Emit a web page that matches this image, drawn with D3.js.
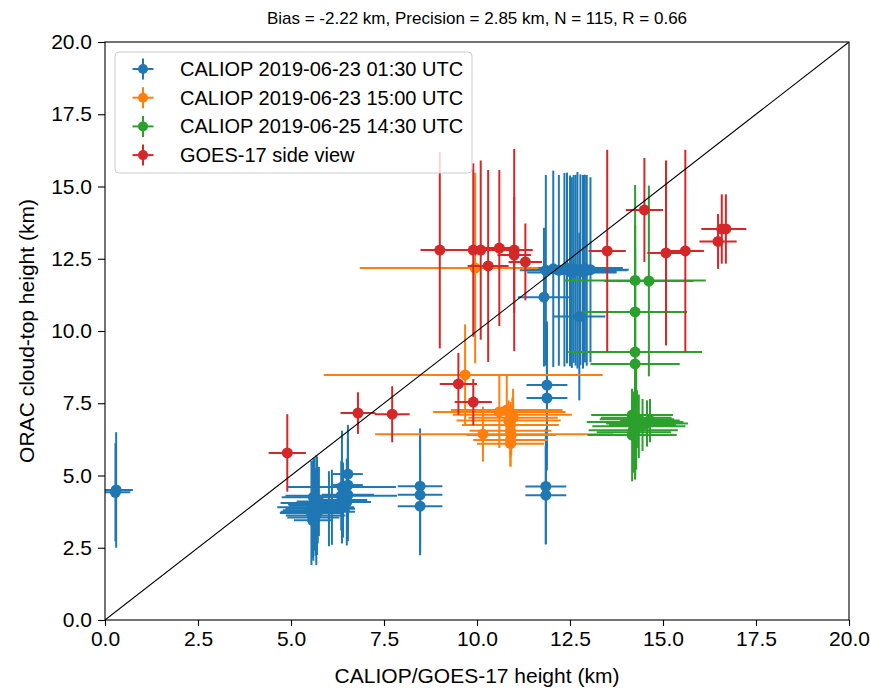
<!DOCTYPE html>
<html>
<head>
<meta charset="utf-8">
<script src="https://cdn.jsdelivr.net/npm/d3@7"></script>
<style>
  body { margin: 0; background: #fff; }
  text { font-family: "Liberation Sans", Arial, Helvetica, sans-serif; fill: #000; }
</style>
</head>
<body>
<svg id="chart"></svg>
<script>
// each point: [x, y, xerr, yerr]  (xerr may be [lo, hi])
const caliop0623a = [
  [0.30, 4.50, 0.45, 2.0], [0.28, 4.42, 0.40, 1.7],
  [5.60, 4.25, 0.85, 1.3], [5.62, 4.05, 0.90, 1.5], [5.58, 3.90, 0.95, 1.6],
  [5.65, 3.85, 0.80, 1.4], [5.55, 3.70, 0.85, 1.8], [5.60, 3.55, 0.70, 1.5],
  [5.70, 3.95, 0.75, 1.7], [5.75, 4.10, 0.60, 1.2], [5.58, 3.45, 0.50, 1.3],
  [5.68, 3.80, 0.90, 1.9], [5.62, 4.00, 0.70, 1.6], [5.66, 3.62, 0.80, 1.4],
  [5.72, 3.75, 1.00, 1.1], [6.02, 3.85, 0.70, 1.3], [6.10, 3.90, 0.60, 1.3],
  [6.37, 4.60, 1.45, 1.95], [6.40, 4.15, 0.65, 1.3], [6.35, 4.30, 1.50, 1.2],
  [6.53, 5.05, 0.40, 1.7], [6.53, 4.67, 0.40, 1.6], [6.53, 4.33, 0.70, 1.6],
  [6.50, 4.08, 0.65, 1.5],
  [8.47, 4.63, 0.60, 2.0], [8.47, 4.33, 0.60, 2.0], [8.47, 3.94, 0.60, 1.7],
  [11.88, 8.13, 0.55, 2.2], [11.88, 7.68, 0.55, 2.5],
  [11.85, 4.62, 0.55, 2.0], [11.85, 4.32, 0.55, 1.7],
  [11.80, 11.17, 0.70, 2.4], [12.75, 10.50, 0.70, 2.9],
  [11.85, 12.10, 0.70, 3.3], [12.05, 12.15, 0.60, 3.4], [12.20, 12.10, 0.90, 3.3],
  [12.35, 12.12, 0.50, 3.35], [12.50, 12.08, 0.80, 3.3], [12.60, 12.15, 1.00, 3.25],
  [12.70, 12.10, 0.70, 3.4], [12.78, 12.12, 1.30, 3.3], [12.85, 12.05, 0.90, 3.35],
  [12.95, 12.10, 1.10, 3.3], [13.05, 12.12, 0.80, 3.2], [12.42, 12.18, 1.50, 3.3],
  [12.65, 12.10, 0.60, 3.3], [12.55, 12.02, 1.20, 3.3], [12.90, 12.16, 0.75, 3.25]
];

const caliop0623b = [
  [9.95, 12.18, [3.1, 1.7], 3.3],
  [9.68, 8.48, [3.8, 3.7], 1.75],
  [10.16, 6.43, [2.9, 3.5], 0.95],
  [10.60, 7.20, 1.78, 1.25], [10.80, 7.27, 1.50, 1.2], [10.97, 7.00, 1.20, 1.0],
  [10.90, 6.75, 1.30, 0.8], [10.90, 6.55, 1.10, 0.9], [10.90, 6.23, 1.00, 0.9],
  [10.90, 6.10, 0.90, 0.8], [10.85, 6.90, 1.40, 0.7], [10.95, 7.10, 1.60, 0.6],
  [10.92, 6.40, 1.20, 0.7]
];

const caliop0625 = [
  [14.25, 11.75, 1.90, 3.3], [14.62, 11.73, 1.20, 3.3],
  [14.25, 10.66, 1.40, 3.0], [14.25, 9.27, 1.80, 4.4], [14.25, 8.86, 1.20, 4.0],
  [14.17, 7.09, 1.10, 0.9], [14.25, 6.85, 1.30, 1.0], [14.57, 6.80, 1.10, 0.8],
  [14.20, 6.57, 1.20, 1.2], [14.17, 6.40, 1.20, 1.6], [14.30, 6.95, 1.00, 1.0],
  [14.35, 6.70, 1.25, 1.1], [14.45, 6.75, 0.90, 0.9], [14.22, 6.50, 1.00, 1.4],
  [14.65, 6.90, 0.80, 0.75], [14.28, 7.00, 0.95, 1.8]
];

const goesSide = [
  [4.90, 5.78, 0.50, 1.34], [6.80, 7.16, 0.47, 0.72], [7.72, 7.12, 0.47, 0.97],
  [9.50, 8.17, 0.50, 1.07], [9.90, 7.54, 0.50, 0.80],
  [9.00, 12.80, 0.52, 3.40], [9.90, 12.80, 0.55, 3.00], [10.10, 12.80, 0.50, 3.10],
  [10.60, 12.87, 0.50, 2.70], [11.00, 12.80, 0.50, 3.50], [11.00, 12.63, 0.45, 2.00],
  [10.30, 12.25, 0.55, 3.32], [11.30, 12.39, 0.45, 1.33],
  [13.50, 12.77, 0.50, 3.50], [14.50, 14.19, 0.50, 1.80], [15.08, 12.70, 0.50, 3.20],
  [15.60, 12.77, 0.50, 3.50], [16.48, 13.10, 0.50, 0.95], [16.58, 13.53, 0.55, 1.20],
  [16.69, 13.53, 0.55, 1.20]
];

const seriesNames = [
  "CALIOP 2019-06-23 01:30 UTC",
  "CALIOP 2019-06-23 15:00 UTC",
  "CALIOP 2019-06-25 14:30 UTC",
  "GOES-17 side view"
];
const seriesColors = ["#1f77b4", "#ff7f0e", "#2ca02c", "#d62728"];
const allSeries = [caliop0623a, caliop0623b, caliop0625, goesSide];
const ticks = [0, 2.5, 5, 7.5, 10, 12.5, 15, 17.5, 20];
const titleText = "Bias = -2.22 km, Precision = 2.85 km, N = 115, R = 0.66";

const width = 870, height = 688;
const margin = { left: 105, right: 21, top: 42, bottom: 68 };
const innerW = width - margin.left - margin.right;
const innerH = height - margin.top - margin.bottom;

const svg = d3.select("#chart").attr("width", width).attr("height", height);

const x = d3.scaleLinear().domain([0, 20]).range([margin.left, margin.left + innerW]);
const y = d3.scaleLinear().domain([0, 20]).range([margin.top + innerH, margin.top]);

svg.append("defs").append("clipPath").attr("id", "plotClip")
  .append("rect").attr("x", margin.left).attr("y", margin.top)
  .attr("width", innerW).attr("height", innerH);

const plot = svg.append("g").attr("clip-path", "url(#plotClip)");

const lo = e => Array.isArray(e) ? e[0] : e;
const hi = e => Array.isArray(e) ? e[1] : e;

allSeries.forEach((data, i) => {
  const g = plot.append("g").attr("stroke", seriesColors[i]).attr("stroke-width", 2);
  g.selectAll(".xerr").data(data).enter().append("line")
    .attr("x1", d => x(d[0] - lo(d[2]))).attr("x2", d => x(d[0] + hi(d[2])))
    .attr("y1", d => y(d[1])).attr("y2", d => y(d[1]));
  g.selectAll(".yerr").data(data).enter().append("line")
    .attr("x1", d => x(d[0])).attr("x2", d => x(d[0]))
    .attr("y1", d => y(d[1] - lo(d[3]))).attr("y2", d => y(d[1] + hi(d[3])));
  plot.append("g").selectAll("circle").data(data).enter().append("circle")
    .attr("cx", d => x(d[0])).attr("cy", d => y(d[1]))
    .attr("r", 5.5).attr("fill", seriesColors[i]);
});

// 1:1 line
plot.append("line")
  .attr("x1", x(0)).attr("y1", y(0)).attr("x2", x(20)).attr("y2", y(20))
  .attr("stroke", "#000").attr("stroke-width", 1.1);

// axes
const fmt = d3.format(".1f");
const xAxis = svg.append("g").attr("transform", `translate(0,${margin.top + innerH})`)
  .call(d3.axisBottom(x).tickValues(ticks).tickFormat(fmt).tickSizeOuter(0).tickSize(6).tickPadding(5));
const yAxis = svg.append("g").attr("transform", `translate(${margin.left},0)`)
  .call(d3.axisLeft(y).tickValues(ticks).tickFormat(fmt).tickSizeOuter(0).tickSize(7).tickPadding(6));
[xAxis, yAxis].forEach(a => {
  a.select(".domain").remove();
  a.selectAll("line").attr("stroke", "#000").attr("stroke-width", 1.1);
  a.selectAll("text").attr("font-size", 21).attr("font-family", null);
});

svg.append("rect")
  .attr("x", margin.left).attr("y", margin.top)
  .attr("width", innerW).attr("height", innerH)
  .attr("fill", "none").attr("stroke", "#000").attr("stroke-width", 1.1);

// labels
svg.append("text").attr("x", margin.left + innerW / 2).attr("y", 24)
  .attr("text-anchor", "middle").attr("font-size", 17).text(titleText);
svg.append("text").attr("x", margin.left + innerW / 2).attr("y", 683)
  .attr("text-anchor", "middle").attr("font-size", 21).text("CALIOP/GOES-17 height (km)");
svg.append("text")
  .attr("transform", `translate(34,${margin.top + innerH / 2}) rotate(-90)`)
  .attr("text-anchor", "middle").attr("font-size", 21).text("ORAC cloud-top height (km)");

// legend
const legend = svg.append("g");
legend.append("rect")
  .attr("x", 115).attr("y", 52).attr("width", 357).attr("height", 121)
  .attr("rx", 4).attr("fill", "#fff").attr("fill-opacity", 0.8)
  .attr("stroke", "#ccc").attr("stroke-width", 1);
seriesNames.forEach((name, i) => {
  const cy = 69 + i * 28.7;
  const item = legend.append("g").attr("transform", `translate(143,${cy})`);
  item.append("line").attr("x1", -10.5).attr("x2", 10.5)
    .attr("stroke", seriesColors[i]).attr("stroke-width", 2);
  item.append("line").attr("y1", -10.5).attr("y2", 10.5)
    .attr("stroke", seriesColors[i]).attr("stroke-width", 2);
  item.append("circle").attr("r", 5).attr("fill", seriesColors[i]);
  item.append("text").attr("x", 37).attr("y", 7).attr("font-size", 20).text(name);
});
</script>
</body>
</html>
